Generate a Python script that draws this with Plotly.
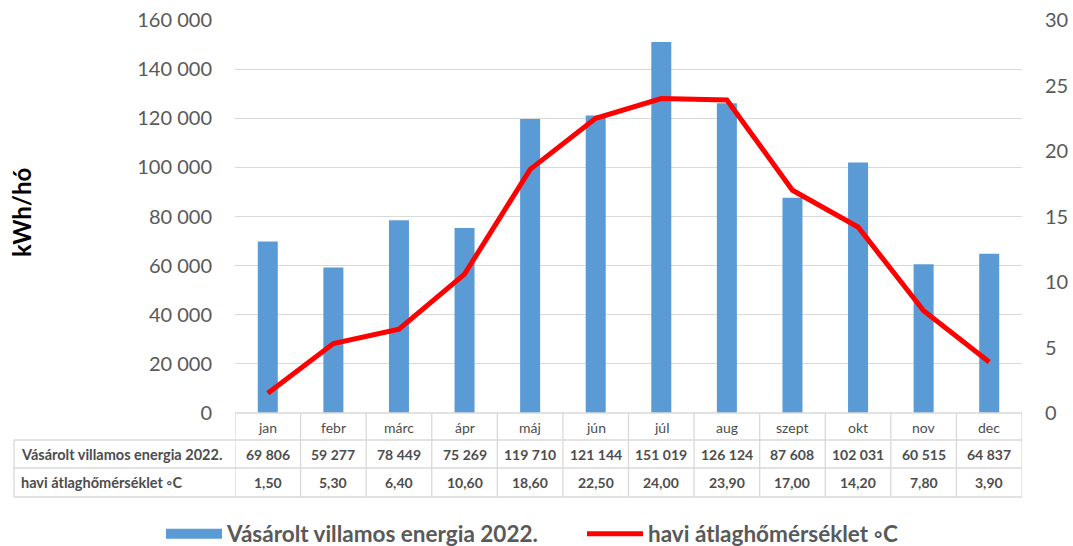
import plotly.graph_objects as go

months = ["jan", "febr", "márc", "ápr", "máj", "jún", "júl", "aug", "szept", "okt", "nov", "dec"]
energy = [69806, 59277, 78449, 75269, 119710, 121144, 151019, 126124, 87608, 102031, 60515, 64837]
temp = [1.50, 5.30, 6.40, 10.60, 18.60, 22.50, 24.00, 23.90, 17.00, 14.20, 7.80, 3.90]
energy_name = "Vásárolt villamos energia 2022."
temp_name = "havi átlaghőmérséklet ◦C"

W, H = 1073, 546
PL, PR, PT, PB = 235, 1022, 20, 413  # plot area in page pixels
L, R, T, B = PL, W - PR, PT, H - PB
PH = PB - PT
PW = PR - PL

def py(p):  # page pixel y -> paper y
    return (PB - p) / PH

def px(p):
    return (p - PL) / PW

FONT = "Lato, Calibri, sans-serif"
BLUE = "#5B9BD5"
GRID = "#D9D9D9"
TXT = "#595959"
TBL = "#4D4D4D"

fig = go.Figure()
fig.add_trace(go.Bar(x=months, y=energy, name=energy_name, marker_color=BLUE,
                     marker_line_width=0, yaxis="y", showlegend=False))
fig.add_trace(go.Scatter(x=[None], y=[None], name=energy_name, mode="lines",
                         line=dict(color=BLUE, width=14), yaxis="y", showlegend=True))
fig.add_trace(go.Scatter(x=months, y=temp, name=temp_name, mode="lines",
                         line=dict(color="#FF0000", width=5), yaxis="y2"))

shapes = []
line_style = dict(color=GRID, width=1.3)
for yy in [440, 468, 497]:
    shapes.append(dict(type="line", xref="paper", yref="paper", x0=px(14), x1=1,
                       y0=py(yy), y1=py(yy), line=line_style))
shapes.append(dict(type="line", xref="paper", yref="paper", x0=0, x1=1,
                   y0=0, y1=0, line=line_style))
shapes.append(dict(type="line", xref="paper", yref="paper", x0=px(14), x1=px(14),
                   y0=py(440), y1=py(497), line=line_style))
for k in range(len(months) + 1):
    shapes.append(dict(type="line", xref="x", yref="paper", x0=k - 0.5, x1=k - 0.5,
                       y0=0, y1=py(497), line=line_style))

ann = []
for i, m in enumerate(months):
    ann.append(dict(x=m, xref="x", y=py(427), yref="paper", text=m, showarrow=False,
                    xanchor="center", yanchor="middle",
                    font=dict(family=FONT, size=14, color=TBL)))
    ann.append(dict(x=m, xref="x", y=py(454), yref="paper",
                    text=f"{energy[i]:,}".replace(",", " "), showarrow=False,
                    xanchor="center", yanchor="middle",
                    font=dict(family=FONT, size=14, color=TBL, weight="bold")))
    ann.append(dict(x=m, xref="x", y=py(483), yref="paper",
                    text=f"{temp[i]:.2f}".replace(".", ","), showarrow=False,
                    xanchor="center", yanchor="middle",
                    font=dict(family=FONT, size=14, color=TBL, weight="bold")))
ann.append(dict(x=px(19), xref="paper", y=py(454), yref="paper", text=energy_name,
                showarrow=False, xanchor="left", yanchor="middle",
                font=dict(family=FONT, size=14.5, color=TBL, weight="bold")))
ann.append(dict(x=px(19), xref="paper", y=py(483), yref="paper", text=temp_name,
                showarrow=False, xanchor="left", yanchor="middle",
                font=dict(family=FONT, size=14.5, color=TBL, weight="bold")))
ann.append(dict(x=px(21), xref="paper", y=py(213), yref="paper", text="kWh/hó",
                showarrow=False, textangle=-90, xanchor="center", yanchor="middle",
                font=dict(family=FONT, size=24, color="#000000", weight="bold")))

fig.update_layout(
    width=W, height=H,
    margin=dict(l=L, r=R, t=T, b=B, autoexpand=False),
    paper_bgcolor="white", plot_bgcolor="white",
    separators=", ",
    bargap=0.695,
    font=dict(family=FONT, color=TXT),
    xaxis=dict(showticklabels=False, showgrid=False, ticks="", showline=False,
               range=[-0.5, 11.5]),
    yaxis=dict(range=[0, 160000], dtick=20000, tickformat=",d", showgrid=True,
               gridcolor=GRID, gridwidth=1.3, zeroline=False, showline=False,
               ticks="", ticklabelstandoff=22, automargin=False,
               ticklabeloverflow="allow",
               tickfont=dict(family=FONT, size=20, color=TXT)),
    yaxis2=dict(range=[0, 30], dtick=5, overlaying="y", side="right", showgrid=False,
                zeroline=False, showline=False, ticks="", ticklabelstandoff=22,
                automargin=False, ticklabeloverflow="allow",
                tickfont=dict(family=FONT, size=20, color=TXT)),
    showlegend=True,
    legend=dict(orientation="h", x=px(161), xanchor="left", y=py(534), yanchor="middle",
                itemwidth=56, entrywidth=350, entrywidthmode="pixels",
                font=dict(family=FONT, size=22.5, color=TXT, weight="bold")),
    shapes=shapes,
    annotations=ann,
)

fig.write_html("out.html", config={"displayModeBar": False},
               post_script="document.body.style.margin='0';")
